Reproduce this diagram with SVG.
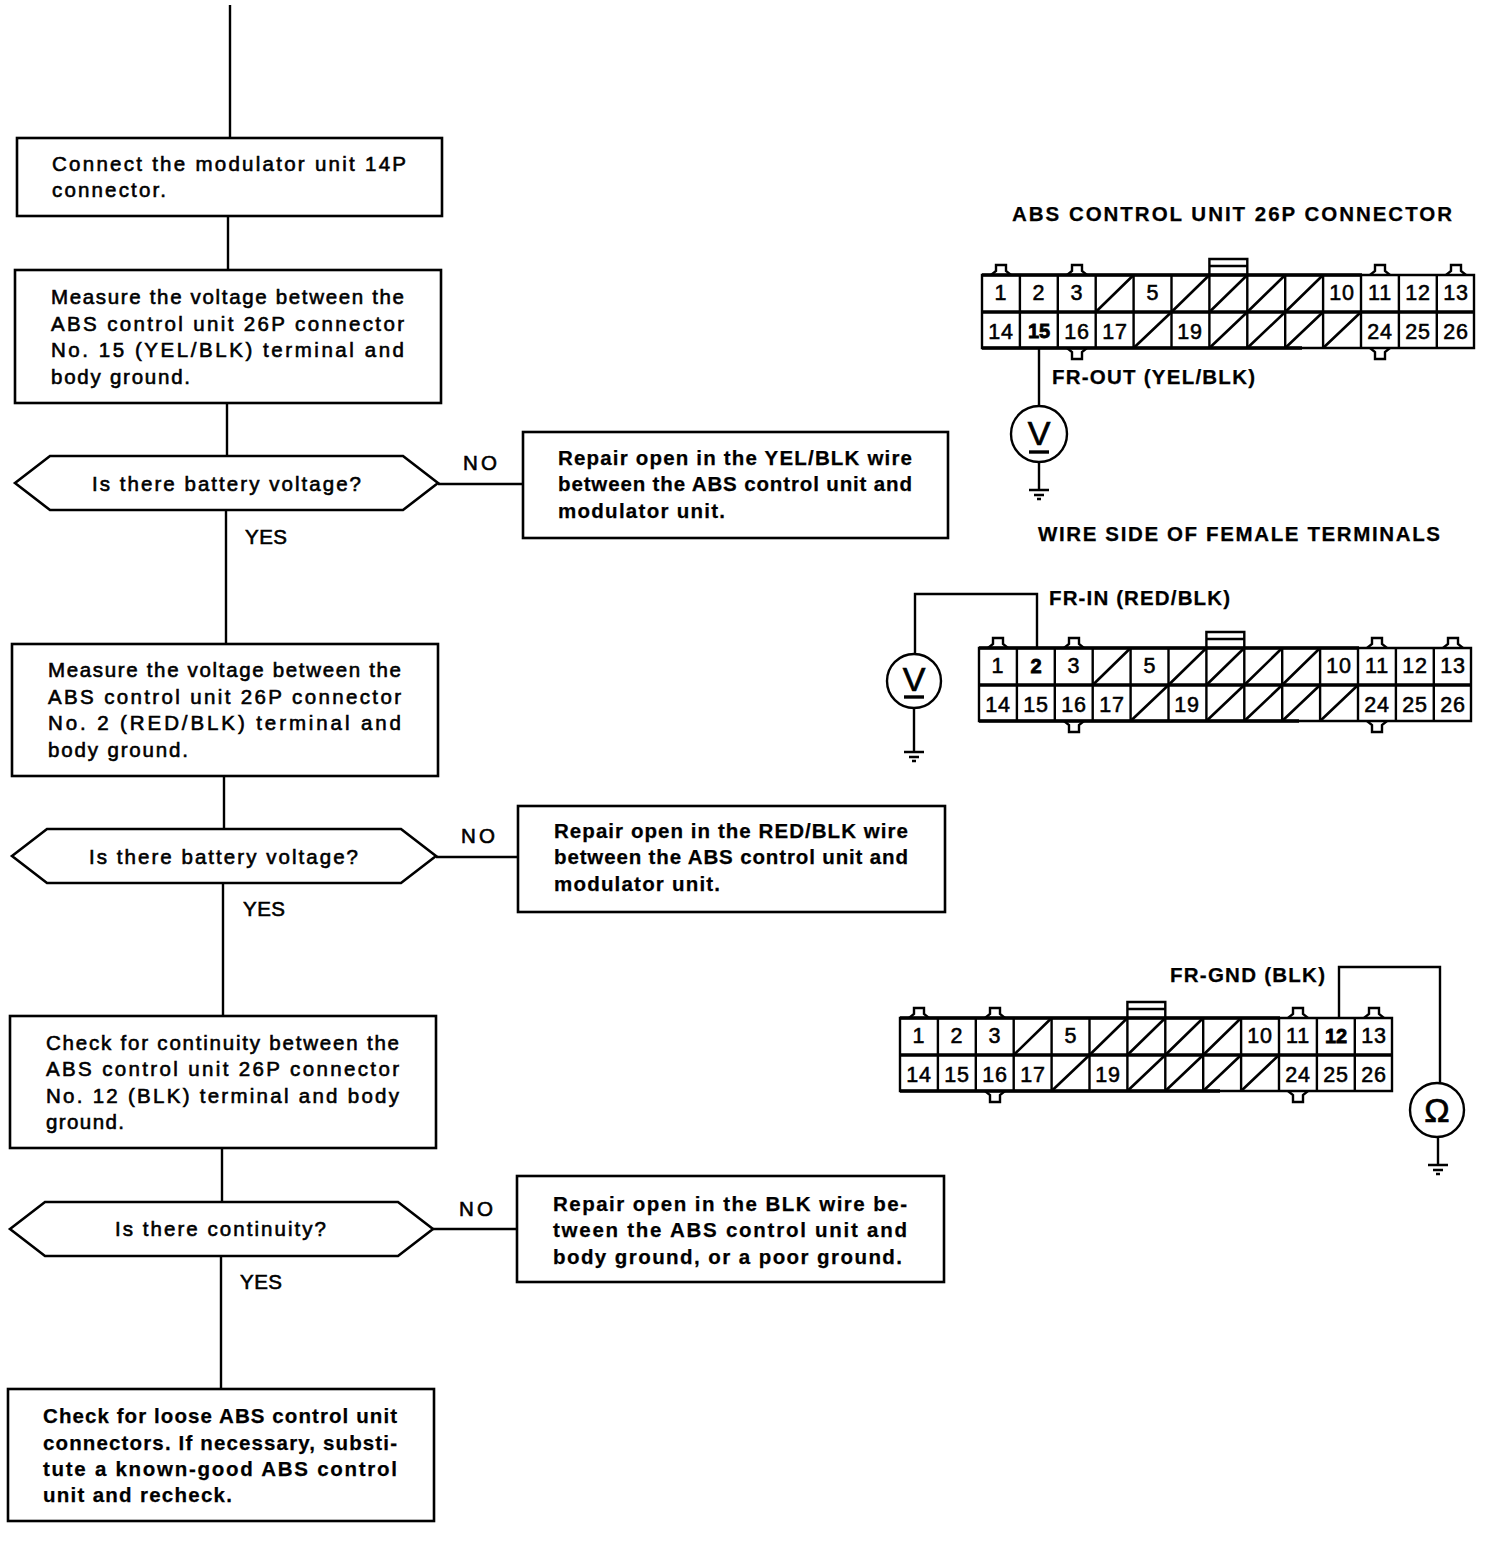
<svg xmlns="http://www.w3.org/2000/svg" xmlns:xlink="http://www.w3.org/1999/xlink" width="1488" height="1546" viewBox="0 0 1488 1546">
<style>
text{font-family:"Liberation Sans",Arial,sans-serif;fill:#000;font-size:20.5px}
.t{stroke:#000;stroke-width:.6px;transform:translateY(-1px)}
.b{font-weight:bold;stroke:#000;stroke-width:.25px;transform:translateY(-1px)}
.box{fill:#fff;stroke:#000;stroke-width:2.6}
.w{fill:none;stroke:#000;stroke-width:2.4}
.f{fill:none;stroke:#000;stroke-width:2.4}
.h{fill:none;stroke:#000;stroke-width:3.4}
.d{fill:none;stroke:#000;stroke-width:2.6}
.n{font-size:21.5px;letter-spacing:.8px;text-anchor:middle;stroke:#000;stroke-width:.55px}
.nb{font-size:20px;font-weight:bold;text-anchor:middle;stroke:#000;stroke-width:.8px}
.m{font-size:34px;text-anchor:middle;stroke:#000;stroke-width:.7px}
</style>
<defs>
<g id="conn">
<path class="f" d="M0 0H492V73H0Z"/>
<path class="h" d="M0 37H492M0 0H380M0 73H320"/>
<path class="f" d="M37.900 0V73M75.800 0V73M113.700 0V73M151.600 0V73M189.500 0V73M227.400 0V73M265.300 0V73M303.200 0V73M341.100 0V73M379 0V73M416.900 0V73M454.800 0V73"/>
<path class="d" d="M113.700 37L151.600 0M189.500 37L227.400 0M227.400 37L265.300 0M265.300 37L303.200 0M303.200 37L341.100 0"/>
<path class="d" d="M151.600 73L189.500 37M227.400 73L265.300 37M265.300 73L303.200 37M303.200 73L341.100 37M341.100 73L379 37"/>
<path class="f" d="M9 0L14 -4V-10H24V-4L29 0M85 0L90 -4V-10H100V-4L105 0M388 0L393 -4V-10H403V-4L408 0M464 0L469 -4V-10H479V-4L484 0"/>
<path class="f" d="M85 73L90 77V84H100V77L105 73M388 73L393 77V84H403V77L408 73"/>
<path class="f" d="M227.400 0V-16H265.300V0M227.400 -9H265.300"/>
</g>
<g id="gnd"><path class="f" d="M-10 0H10M-5 5H5M-2 9H2"/></g>
</defs>

<g id="connectors">
<path class="w" d="M230 5V138M228 216V270M227 403V456M226 510V644M224 776V829M223 883V1016M222 1148V1202M221 1256V1389"/>
<path class="w" d="M438 484H523M436 857H518M433 1229H517"/>
<path class="w" d="M1039 348V406M1039 462V490"/>
<path class="w" d="M1037 647V594H915V654M914 708V752"/>
<path class="w" d="M1339 1018V967H1440V1083M1438 1137V1165"/>
</g>

<g id="box1"><rect class="box" x="17" y="138" width="425" height="78"/>
<text class="t" x="52" y="172" textLength="354" lengthAdjust="spacing">Connect the modulator unit 14P</text>
<text class="t" x="52" y="198" textLength="114" lengthAdjust="spacing">connector.</text></g>

<g id="box2"><rect class="box" x="15" y="270" width="426" height="133"/>
<text class="t" x="51" y="305" textLength="353" lengthAdjust="spacing">Measure the voltage between the</text>
<text class="t" x="51" y="332" textLength="353" lengthAdjust="spacing">ABS control unit 26P connector</text>
<text class="t" x="51" y="358" textLength="353" lengthAdjust="spacing">No. 15 (YEL/BLK) terminal and</text>
<text class="t" x="51" y="385" textLength="139" lengthAdjust="spacing">body ground.</text></g>

<g id="dec1"><path class="box" d="M15 483L50 456H403L438 483L403 510H50Z"/>
<text class="t" x="92" y="492" textLength="269" lengthAdjust="spacing">Is there battery voltage?</text></g>
<text class="t" x="463" y="471" textLength="34" lengthAdjust="spacing">NO</text>
<text class="t" x="245" y="545" textLength="42" lengthAdjust="spacing">YES</text>

<g id="rep1"><rect class="box" x="523" y="432" width="425" height="106"/>
<text class="b" x="558" y="466" textLength="354" lengthAdjust="spacing">Repair open in the YEL/BLK wire</text>
<text class="b" x="558" y="492" textLength="354" lengthAdjust="spacing">between the ABS control unit and</text>
<text class="b" x="558" y="519" textLength="167" lengthAdjust="spacing">modulator unit.</text></g>

<g id="box3"><rect class="box" x="12" y="644" width="426" height="132"/>
<text class="t" x="48" y="678" textLength="353" lengthAdjust="spacing">Measure the voltage between the</text>
<text class="t" x="48" y="705" textLength="353" lengthAdjust="spacing">ABS control unit 26P connector</text>
<text class="t" x="48" y="731" textLength="353" lengthAdjust="spacing">No. 2 (RED/BLK) terminal and</text>
<text class="t" x="48" y="758" textLength="140" lengthAdjust="spacing">body ground.</text></g>

<g id="dec2"><path class="box" d="M12 856L47 829H401L436 856L401 883H47Z"/>
<text class="t" x="89" y="865" textLength="269" lengthAdjust="spacing">Is there battery voltage?</text></g>
<text class="t" x="461" y="844" textLength="34" lengthAdjust="spacing">NO</text>
<text class="t" x="243" y="917" textLength="42" lengthAdjust="spacing">YES</text>

<g id="rep2"><rect class="box" x="518" y="806" width="427" height="106"/>
<text class="b" x="554" y="839" textLength="354" lengthAdjust="spacing">Repair open in the RED/BLK wire</text>
<text class="b" x="554" y="865" textLength="354" lengthAdjust="spacing">between the ABS control unit and</text>
<text class="b" x="554" y="892" textLength="166" lengthAdjust="spacing">modulator unit.</text></g>

<g id="box4"><rect class="box" x="10" y="1016" width="426" height="132"/>
<text class="t" x="46" y="1051" textLength="353" lengthAdjust="spacing">Check for continuity between the</text>
<text class="t" x="46" y="1077" textLength="353" lengthAdjust="spacing">ABS control unit 26P connector</text>
<text class="t" x="46" y="1104" textLength="353" lengthAdjust="spacing">No. 12 (BLK) terminal and body</text>
<text class="t" x="46" y="1130" textLength="78" lengthAdjust="spacing">ground.</text></g>

<g id="dec3"><path class="box" d="M10 1229L45 1202H398L433 1229L398 1256H45Z"/>
<text class="t" x="115" y="1237" textLength="211" lengthAdjust="spacing">Is there continuity?</text></g>
<text class="t" x="459" y="1217" textLength="34" lengthAdjust="spacing">NO</text>
<text class="t" x="240" y="1290" textLength="42" lengthAdjust="spacing">YES</text>

<g id="rep3"><rect class="box" x="517" y="1176" width="427" height="106"/>
<text class="b" x="553" y="1212" textLength="354" lengthAdjust="spacing">Repair open in the BLK wire be-</text>
<text class="b" x="553" y="1238" textLength="354" lengthAdjust="spacing">tween the ABS control unit and</text>
<text class="b" x="553" y="1265" textLength="349" lengthAdjust="spacing">body ground, or a poor ground.</text></g>

<g id="box5"><rect class="box" x="8" y="1389" width="426" height="132"/>
<text class="b" x="43" y="1424" textLength="354" lengthAdjust="spacing">Check for loose ABS control unit</text>
<text class="b" x="43" y="1451" textLength="354" lengthAdjust="spacing">connectors. If necessary, substi-</text>
<text class="b" x="43" y="1477" textLength="354" lengthAdjust="spacing">tute a known-good ABS control</text>
<text class="b" x="43" y="1503" textLength="189" lengthAdjust="spacing">unit and recheck.</text></g>

<text class="b" x="1012" y="222" textLength="440" lengthAdjust="spacing">ABS CONTROL UNIT 26P CONNECTOR</text>
<text class="b" x="1038" y="542" textLength="402" lengthAdjust="spacing">WIRE SIDE OF FEMALE TERMINALS</text>

<g id="conn1" transform="translate(982 275)"><use href="#conn"/>
<text class="n" x="19" y="25">1</text><text class="n" x="57" y="25">2</text><text class="n" x="95" y="25">3</text><text class="n" x="171" y="25">5</text><text class="n" x="360" y="25">10</text><text class="n" x="398" y="25">11</text><text class="n" x="436" y="25">12</text><text class="n" x="474" y="25">13</text>
<text class="n" x="19" y="64">14</text><text class="nb" x="57" y="63">15</text><text class="n" x="95" y="64">16</text><text class="n" x="133" y="64">17</text><text class="n" x="208" y="64">19</text><text class="n" x="398" y="64">24</text><text class="n" x="436" y="64">25</text><text class="n" x="474" y="64">26</text></g>

<g id="conn2" transform="translate(979 648)"><use href="#conn"/>
<text class="n" x="19" y="25">1</text><text class="nb" x="57" y="25">2</text><text class="n" x="95" y="25">3</text><text class="n" x="171" y="25">5</text><text class="n" x="360" y="25">10</text><text class="n" x="398" y="25">11</text><text class="n" x="436" y="25">12</text><text class="n" x="474" y="25">13</text>
<text class="n" x="19" y="64">14</text><text class="n" x="57" y="64">15</text><text class="n" x="95" y="64">16</text><text class="n" x="133" y="64">17</text><text class="n" x="208" y="64">19</text><text class="n" x="398" y="64">24</text><text class="n" x="436" y="64">25</text><text class="n" x="474" y="64">26</text></g>

<g id="conn3" transform="translate(900 1018)"><use href="#conn"/>
<text class="n" x="19" y="25">1</text><text class="n" x="57" y="25">2</text><text class="n" x="95" y="25">3</text><text class="n" x="171" y="25">5</text><text class="n" x="360" y="25">10</text><text class="n" x="398" y="25">11</text><text class="nb" x="436" y="25">12</text><text class="n" x="474" y="25">13</text>
<text class="n" x="19" y="64">14</text><text class="n" x="57" y="64">15</text><text class="n" x="95" y="64">16</text><text class="n" x="133" y="64">17</text><text class="n" x="208" y="64">19</text><text class="n" x="398" y="64">24</text><text class="n" x="436" y="64">25</text><text class="n" x="474" y="64">26</text></g>

<text class="b" x="1052" y="385" textLength="203" lengthAdjust="spacing">FR-OUT (YEL/BLK)</text>
<text class="b" x="1049" y="606" textLength="181" lengthAdjust="spacing">FR-IN (RED/BLK)</text>
<text class="b" x="1170" y="983" textLength="155" lengthAdjust="spacing">FR-GND (BLK)</text>

<g id="meter1"><circle class="f" cx="1039" cy="434" r="28"/><text class="m" x="1039" y="445">V</text><path class="h" d="M1029 452H1049"/><use href="#gnd" x="1039" y="490"/></g>
<g id="meter2"><circle class="f" cx="914" cy="681" r="27"/><text class="m" x="914" y="691">V</text><path class="h" d="M904 697H924"/><use href="#gnd" x="914" y="752"/></g>
<g id="meter3"><circle class="f" cx="1437" cy="1110" r="27"/><text class="m" x="1437" y="1122">Ω</text><use href="#gnd" x="1438" y="1165"/></g>
</svg>
